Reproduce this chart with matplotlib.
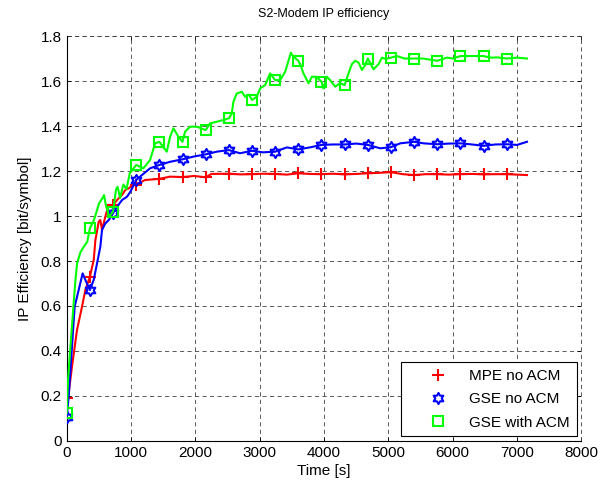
import numpy as np
import matplotlib
matplotlib.use('Agg')
import matplotlib.pyplot as plt
from matplotlib.path import Path
from matplotlib.lines import Line2D

plt.rcParams['font.family'] = ['Liberation Sans', 'DejaVu Sans']
plt.rcParams['font.size'] = 11

# marker positions shared by all three curves [s]
marker_t = [0, 360, 720, 1080, 1440, 1800, 2160, 2520, 2880, 3240,
            3600, 3960, 4320, 4680, 5040, 5400, 5760, 6120, 6480, 6840]

# MPE without ACM
mpe_t = [0, 31, 82, 160, 238, 290, 360, 420, 446, 498, 523, 549, 600, 653,
         720, 783, 860, 912, 964, 1042, 1080, 1218, 1440, 1607, 1800, 1980,
         2160, 2250, 2520, 2700, 2880, 3060, 3240, 3420, 3600, 3780, 3960,
         4140, 4320, 4500, 4680, 4860, 5040, 5220, 5400, 5580, 5760, 5940,
         6120, 6300, 6480, 6660, 6840, 7000, 7154]
mpe_y = [0.19, 0.212, 0.33, 0.493, 0.597, 0.671, 0.73, 0.804, 0.893, 0.975,
         0.982, 0.938, 0.997, 1.049, 1.049, 1.071, 1.094, 1.116, 1.123, 1.14,
         1.14, 1.16, 1.165, 1.175, 1.173, 1.178, 1.172, 1.187, 1.188, 1.185,
         1.186, 1.188, 1.187, 1.184, 1.19, 1.187, 1.186, 1.188, 1.185, 1.187,
         1.19, 1.192, 1.195, 1.186, 1.182, 1.186, 1.186, 1.184, 1.186, 1.187,
         1.185, 1.186, 1.186, 1.184, 1.182]

# GSE without ACM
gse_t = [0, 31, 82, 124, 186, 248, 290, 360, 420, 472, 523, 549, 600, 653,
         720, 783, 860, 938, 990, 1080, 1140, 1296, 1440, 1607, 1800, 1969,
         2160, 2333, 2520, 2695, 2880, 3050, 3240, 3421, 3600, 3780, 3960,
         4130, 4320, 4500, 4680, 4873, 5040, 5184, 5400, 5547, 5760, 5940,
         6120, 6300, 6480, 6660, 6840, 7000, 7154]
gse_y = [0.108, 0.197, 0.419, 0.597, 0.671, 0.745, 0.716, 0.671, 0.716, 0.79,
         0.864, 0.938, 0.967, 0.982, 1.012, 1.041, 1.071, 1.086, 1.108, 1.16,
         1.175, 1.212, 1.227, 1.241, 1.252, 1.264, 1.274, 1.286, 1.293, 1.279,
         1.29, 1.283, 1.286, 1.305, 1.296, 1.305, 1.316, 1.318, 1.318, 1.322,
         1.316, 1.301, 1.306, 1.323, 1.33, 1.323, 1.319, 1.322, 1.323, 1.318,
         1.312, 1.318, 1.319, 1.316, 1.33]

# GSE with ACM
acm_t = [0, 20, 84, 136, 162, 215, 267, 320, 360, 424, 503, 555, 581, 608,
         660, 720, 765, 791, 830, 880, 930, 980, 1080, 1192, 1296, 1374, 1440,
         1555, 1607, 1659, 1737, 1800, 1840, 1918, 2022, 2160, 2229, 2333,
         2436, 2520, 2566, 2591, 2644, 2722, 2773, 2830, 2880, 2955, 3006,
         3084, 3162, 3240, 3317, 3395, 3447, 3484, 3520, 3600, 3628, 3680,
         3758, 3810, 3877, 3960, 3991, 4043, 4095, 4173, 4251, 4320, 4380,
         4432, 4484, 4536, 4588, 4640, 4680, 4769, 4847, 4899, 4960, 5040,
         5132, 5250, 5400, 5546, 5650, 5760, 5909, 6000, 6120, 6272, 6480,
         6584, 6700, 6840, 6998, 7154]
acm_y = [0.123, 0.27, 0.52, 0.716, 0.79, 0.84, 0.864, 0.886, 0.945, 0.982,
         1.056, 1.079, 1.093, 1.049, 0.997, 1.019, 1.116, 1.13, 1.08, 1.14,
         1.12, 1.19, 1.227, 1.212, 1.249, 1.323, 1.33, 1.286, 1.352, 1.39,
         1.352, 1.33, 1.375, 1.397, 1.397, 1.382, 1.412, 1.419, 1.427, 1.434,
         1.456, 1.508, 1.545, 1.552, 1.53, 1.54, 1.516, 1.53, 1.567, 1.582,
         1.634, 1.604, 1.604, 1.641, 1.69, 1.726, 1.71, 1.69, 1.675, 1.634,
         1.59, 1.619, 1.619, 1.597, 1.567, 1.619, 1.604, 1.575, 1.59, 1.582,
         1.634, 1.675, 1.69, 1.682, 1.649, 1.671, 1.70, 1.652, 1.675, 1.704,
         1.698, 1.704, 1.711, 1.70, 1.70, 1.70, 1.695, 1.69, 1.704, 1.70,
         1.711, 1.711, 1.711, 1.704, 1.705, 1.70, 1.704, 1.70]

labels = ['MPE no ACM', 'GSE no ACM', 'GSE with ACM']

# six-pointed star outline
ang = np.pi / 2 + np.arange(12) * np.pi / 6
rad = np.where(np.arange(12) % 2 == 0, 1.0, 0.577)
hexagram = Path(np.column_stack([rad * np.cos(ang), rad * np.sin(ang)]).tolist()
                + [[0, 1]], closed=True)

series = [
    (mpe_t, mpe_y, 'red', '+', 8, 1.5),
    (gse_t, gse_y, 'blue', hexagram, 8, 1.5),
    (acm_t, acm_y, '#00ff00', 's', 7, 1.5),
]

fig = plt.figure(figsize=(6.08, 4.83), dpi=100)
ax = fig.add_axes([0.1097, 0.087, 0.8466, 0.8384])

handles = []
for (t, y, col, mk, ms, mew), lab in zip(series, labels):
    t = np.asarray(t)
    idx = np.nonzero(np.isin(t, marker_t))[0].tolist()
    ax.plot(t, y, color=col, lw=1.5, marker=mk, ms=ms, mew=mew,
            mfc='none', mec=col, markevery=idx, zorder=3)
    handles.append(Line2D([], [], ls='none', marker=mk, ms=ms, mew=mew,
                          mfc='none', mec=col, color=col))

ax.set_xlim(0, 8000)
ax.set_ylim(0, 1.8)
ax.set_xticks(np.arange(0, 8001, 1000))
ax.set_yticks(np.arange(0, 1.81, 0.2))
ax.set_yticklabels(['0', '0.2', '0.4', '0.6', '0.8', '1', '1.2', '1.4', '1.6', '1.8'])

ax.grid(True, color='0.25', lw=0.6, ls=(0, (5, 4)))
ax.set_axisbelow(True)
for s in ['top', 'right']:
    ax.spines[s].set_visible(False)
for s in ['left', 'bottom']:
    ax.spines[s].set_linewidth(0.8)
ax.tick_params(direction='in', length=3, width=0.6, top=True, right=True,
               labelsize=11)

# dashed border along the top and right edge
ax.axhline(1.8, color='0.25', lw=0.6, ls=(0, (5, 4)), clip_on=False)
ax.axvline(8000, color='0.25', lw=0.6, ls=(0, (5, 4)), clip_on=False)

ax.set_title('S2-Modem IP efficiency', fontsize=9, pad=14)
ax.set_xlabel('Time [s]', fontsize=11, labelpad=3)
ax.set_ylabel('IP Efficiency [bit/symbol]', fontsize=11, labelpad=6)

leg = ax.legend(handles, labels, loc='lower right', fontsize=11,
                fancybox=False, edgecolor='black', framealpha=1,
                borderaxespad=0.3, handletextpad=0.05, labelspacing=0.6,
                borderpad=0.45, handlelength=4.0)
leg.get_frame().set_linewidth(0.8)

fig.savefig('out.png', dpi=100)
